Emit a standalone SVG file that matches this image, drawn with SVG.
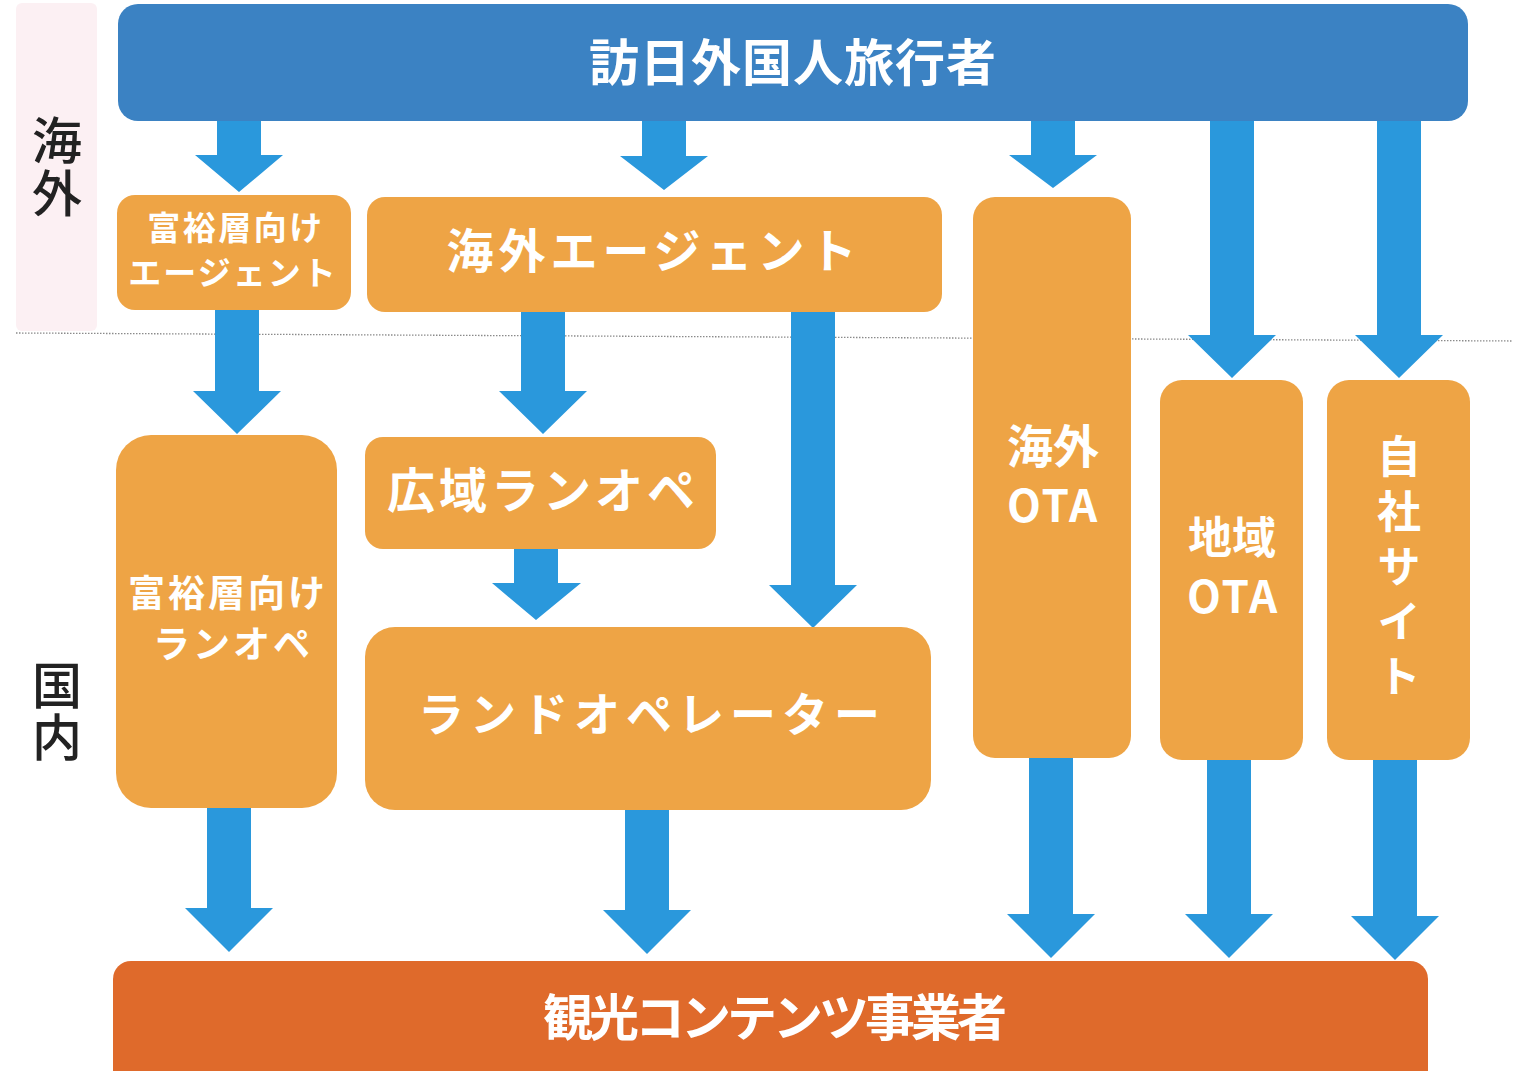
<svg xmlns="http://www.w3.org/2000/svg" width="1513" height="1071" viewBox="0 0 1513 1071">
<defs>
<style>
.band{fill:#fcf0f3}
.top{fill:#3b82c3}
.box{fill:#eea445}
.bottom{fill:#df6a2b}
.arrow{fill:#2a98dc}
.t{font-family:"Noto Sans CJK JP","Noto Sans",sans-serif;fill:#ffffff;font-weight:700;text-anchor:middle}
.v{font-family:"Noto Sans CJK JP",sans-serif;writing-mode:vertical-rl;text-anchor:start}
.side{fill:#222222;font-weight:500;font-size:50px}
.dot{stroke:#8a8a8a;stroke-width:1.3;stroke-dasharray:1.5 1.5;fill:none}
</style>
</defs>
<rect width="1513" height="1071" fill="#ffffff"/>
<rect class="band" x="16" y="3" width="81" height="328" rx="6"/>
<line class="dot" x1="16" y1="333" x2="1513" y2="341"/>
<g id="label-kaigai">
<text class="v side" x="57" y="115" letter-spacing="3">海外</text>
</g>
<g id="label-kokunai">
<text class="v side" x="57" y="660" letter-spacing="2">国内</text>
</g>
<g id="connectors">
<path class="arrow" d="M217,116 H261 V155 H283 L239,192 L195,155 H217 Z"/>
<path class="arrow" d="M642,118 H686 V156 H708 L664,190 L620,156 H642 Z"/>
<path class="arrow" d="M1031,120 H1075 V155 H1097 L1053,188 L1009,155 H1031 Z"/>
<path class="arrow" d="M1210,120 H1254 V335 H1276 L1232,378 L1188,335 H1210 Z"/>
<path class="arrow" d="M1377,120 H1421 V335 H1443 L1399,378 L1355,335 H1377 Z"/>
<path class="arrow" d="M215,308 H259 V391 H281 L237,434 L193,391 H215 Z"/>
<path class="arrow" d="M521,310 H565 V391 H587 L543,434 L499,391 H521 Z"/>
<path class="arrow" d="M791,312 H835 V585 H857 L813,628 L769,585 H791 Z"/>
<path class="arrow" d="M514,546 H558 V583 H581 L536,620 L492,583 H514 Z"/>
<path class="arrow" d="M207,806 H251 V908 H273 L229,952 L185,908 H207 Z"/>
<path class="arrow" d="M625,808 H669 V910 H691 L647,954 L603,910 H625 Z"/>
<path class="arrow" d="M1029,756 H1073 V914 H1095 L1051,958 L1007,914 H1029 Z"/>
<path class="arrow" d="M1207,758 H1251 V914 H1273 L1229,958 L1185,914 H1207 Z"/>
<path class="arrow" d="M1373,758 H1417 V916 H1439 L1395,960 L1351,916 H1373 Z"/>
</g>
<g id="node-visitors">
<rect class="top" x="118" y="4" width="1350" height="117" rx="20"/>
<text class="t" x="793" y="81" font-size="50" letter-spacing="1">訪日外国人旅行者</text>
</g>
<g id="node-wealthy-agent">
<rect class="box" x="117" y="195" width="234" height="115" rx="18"/>
<text class="t" font-size="33"><tspan x="236" y="240" letter-spacing="2.5">富裕層向け</tspan><tspan x="233" y="285" letter-spacing="2">エージェント</tspan></text>
</g>
<g id="node-overseas-agent">
<rect class="box" x="367" y="197" width="575" height="115" rx="18"/>
<text class="t" x="654" y="268" font-size="47" letter-spacing="5">海外エージェント</text>
</g>
<g id="node-overseas-ota">
<rect class="box" x="973" y="197" width="158" height="561" rx="22"/>
<text class="t"><tspan x="1053" y="463" font-size="46">海外</tspan><tspan x="1053" y="522" font-size="44" letter-spacing="2">OTA</tspan></text>
</g>
<g id="node-regional-ota">
<rect class="box" x="1160" y="380" width="143" height="380" rx="22"/>
<text class="t"><tspan x="1232" y="554" font-size="44">地域</tspan><tspan x="1233" y="613" font-size="44" letter-spacing="2">OTA</tspan></text>
</g>
<g id="node-own-site">
<rect class="box" x="1327" y="380" width="143" height="380" rx="22"/>
<text class="v" x="1399" y="434" font-size="44" font-weight="700" fill="#ffffff" letter-spacing="11">自社サイト</text>
</g>
<g id="node-wealthy-landop">
<rect class="box" x="116" y="435" width="221" height="373" rx="35"/>
<text class="t" font-size="37"><tspan x="228" y="607" letter-spacing="3">富裕層向け</tspan><tspan x="233" y="658" letter-spacing="3">ランオペ</tspan></text>
</g>
<g id="node-wide-landop">
<rect class="box" x="365" y="437" width="351" height="112" rx="18"/>
<text class="t" x="543" y="508" font-size="48" letter-spacing="4">広域ランオペ</text>
</g>
<g id="node-landop">
<rect class="box" x="365" y="627" width="566" height="183" rx="30"/>
<text class="t" x="652" y="731" font-size="46" letter-spacing="6">ランドオペレーター</text>
</g>
<g id="node-contents">
<rect class="bottom" x="113" y="961" width="1315" height="130" rx="18"/>
<text class="t" x="773" y="1036" font-size="50" letter-spacing="-4">観光コンテンツ事業者</text>
</g>
</svg>
